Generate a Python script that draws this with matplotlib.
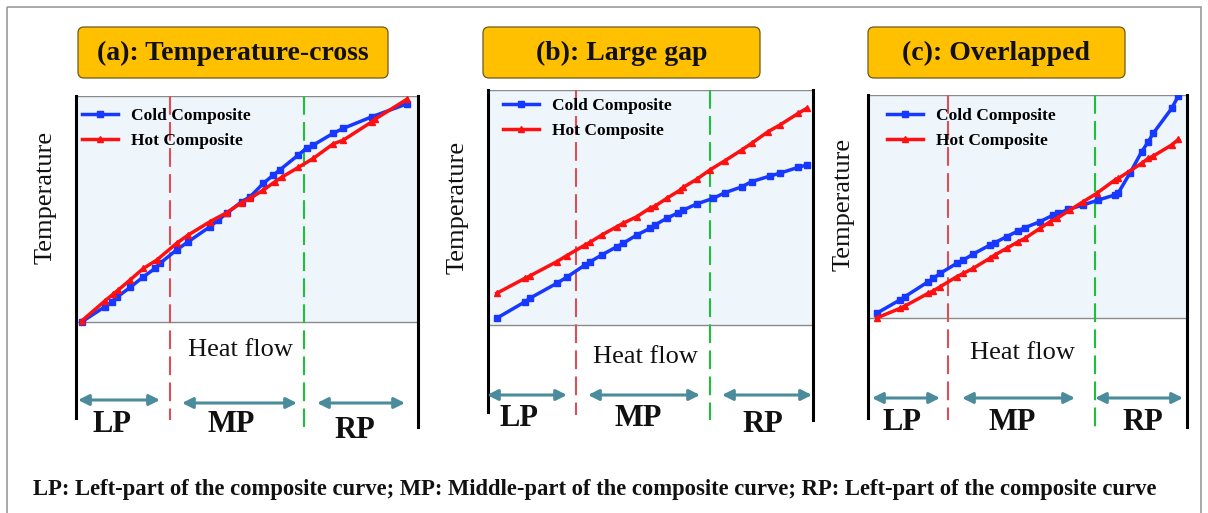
import numpy as np
import matplotlib
matplotlib.use('Agg')
import matplotlib.pyplot as plt
from matplotlib.patches import Rectangle, FancyBboxPatch
from matplotlib.transforms import blended_transform_factory

plt.rcParams['font.family'] = ['Liberation Serif', 'DejaVu Serif']

W, H = 1208, 513

# heat flow (x) / temperature (y), 0-100 arbitrary units
a_cold_x = [1.7, 8.5, 10.4, 11.9, 15.8, 19.7, 23.1, 24.6, 29.4, 32.8, 39.2, 41.6, 44.1, 48.4, 50.9,
            54.8, 57.7, 59.6, 65.0, 67.4, 69.4, 75.2, 78.2, 86.5, 96.7]
a_cold_y = [0.1, 6.8, 9.0, 10.9, 15.3, 20.0, 23.7, 26.0, 31.9, 35.5, 42.2, 45.1, 48.1, 53.2, 55.4,
            61.4, 65.0, 67.3, 73.9, 76.9, 78.3, 83.5, 85.7, 90.8, 96.5]
a_hot_x = [1.7, 8.5, 10.9, 12.4, 15.8, 19.7, 23.6, 29.4, 32.8, 39.2, 44.1, 48.4, 50.9, 54.8, 58.2,
           60.1, 65.0, 69.4, 75.2, 78.2, 86.5, 87.4, 96.7]
a_hot_y = [0.5, 9.4, 12.4, 14.2, 18.6, 23.7, 27.4, 34.8, 38.5, 44.4, 48.4, 52.8, 54.7, 58.4, 62.1,
           64.0, 68.4, 72.4, 78.8, 80.5, 88.6, 89.7, 98.5]

b_cold_x = [2.7, 11.4, 12.9, 21.1, 24.2, 29.8, 31.4, 35.0, 39.6, 41.6, 45.8, 49.8, 51.4, 55.0, 58.6,
            60.1, 64.2, 69.3, 72.9, 78.1, 81.1, 86.8, 89.8, 95.5, 98.1]
b_cold_y = [2.9, 9.9, 11.4, 17.7, 20.3, 25.5, 26.9, 29.8, 33.3, 34.8, 38.3, 41.1, 42.6, 45.4, 47.8,
            48.9, 51.5, 53.9, 56.3, 58.8, 61.0, 63.4, 64.6, 67.1, 68.1]
b_hot_x = [2.7, 11.4, 12.9, 21.1, 24.2, 29.8, 31.4, 35.0, 39.6, 41.6, 45.8, 49.8, 51.4, 55.0, 59.1,
           60.1, 64.2, 68.3, 72.9, 78.1, 81.1, 86.2, 89.8, 95.5, 98.1]
b_hot_y = [13.5, 19.9, 20.9, 26.9, 29.5, 34.0, 35.2, 38.3, 41.8, 43.3, 46.1, 49.7, 50.6, 53.9, 57.4,
           58.6, 62.0, 66.0, 69.9, 74.5, 77.3, 82.3, 85.1, 90.1, 92.2]

c_cold_x = [2.7, 10.0, 11.6, 18.9, 20.5, 22.6, 27.8, 29.9, 33.0, 38.2, 39.8, 43.5, 47.1, 49.2, 53.9,
            58.1, 59.7, 62.8, 67.5, 72.2, 77.4, 78.5, 82.1, 85.8, 87.9, 89.4, 95.2, 97.3]
c_cold_y = [2.1, 8.1, 9.6, 16.3, 17.8, 20.0, 24.5, 26.0, 28.7, 32.7, 33.8, 36.5, 39.1, 40.5, 43.2,
            46.2, 46.9, 48.7, 50.7, 52.9, 55.2, 56.2, 64.9, 74.6, 79.1, 82.8, 94.0, 99.6]
c_hot_x = [2.7, 10.0, 11.6, 18.9, 20.5, 22.6, 27.8, 29.9, 33.0, 38.2, 39.8, 43.5, 47.1, 49.2, 53.9,
           57.1, 59.2, 63.3, 67.5, 71.7, 77.4, 78.5, 85.8, 87.9, 89.4, 95.2, 97.3]
c_hot_y = [0.0, 4.3, 5.4, 11.1, 12.2, 14.0, 18.5, 20.0, 22.3, 26.8, 28.3, 31.3, 34.2, 35.7, 40.2,
           43.2, 44.7, 48.4, 52.2, 55.9, 61.9, 62.6, 69.4, 71.6, 72.6, 77.6, 80.1]

titles = ['(a): Temperature-cross', '(b): Large gap', '(c): Overlapped']
# LP/MP and MP/RP boundaries (heat flow units)
bounds = [(27.5, 66.7), (27.1, 68.3), (25.1, 71.2)]
footer = ('LP: Left-part of the composite curve; MP: Middle-part of the composite curve; '
          'RP: Left-part of the composite curve')

# layout in pixels: x0, x1, ytop, ybottom(plot)
panels = [
    dict(x0=76, x1=418, yt=96, yb=322, box=(78, 27, 310, 51), ylab=(46, 197),
         heat=(240, 350), lines=(418, 427, 420, 427),
         arr=[(78, 160, 400), (182, 297, 403), (317, 405, 403)],
         lab=[(112, 425), (231, 425), (355, 430)], leg=(82, 108),
         data=(a_cold_x, a_cold_y, a_hot_x, a_hot_y)),
    dict(x0=488, x1=813, yt=90, yb=325, box=(483, 27, 277, 51), ylab=(458, 207),
         heat=(645, 357), lines=(412, 420, 415, 420),
         arr=[(487, 567, 395), (588, 700, 395), (722, 812, 395)],
         lab=[(519, 418), (638, 418), (763, 425)], leg=(503, 98),
         data=(b_cold_x, b_cold_y, b_hot_x, b_hot_y)),
    dict(x0=868, x1=1187, yt=95, yb=318, box=(868, 27, 257, 51), ylab=(844, 204),
         heat=(1022, 353), lines=(418, 427, 420, 427),
         arr=[(872, 940, 398), (962, 1075, 398), (1095, 1183, 398)],
         lab=[(902, 423), (1012, 423), (1143, 422)], leg=(887, 108),
         data=(c_cold_x, c_cold_y, c_hot_x, c_hot_y)),
]

fig = plt.figure(figsize=(W / 100, H / 100), dpi=100)
ov = fig.add_axes([0, 0, 1, 1], zorder=5)
ov.set_xlim(0, W)
ov.set_ylim(H, 0)
ov.axis('off')
ov.patch.set_alpha(0)

# outer frame
ov.add_patch(Rectangle((7, 7), 1194, 520, fill=False, ec='#9a9a9a', lw=1.2))

blue = '#1638ff'
red = '#ff1010'
teal = '#4a8b9c'
ybottom = 445

for i, p in enumerate(panels):
    x0, x1, yt, yb = p['x0'], p['x1'], p['yt'], p['yb']
    ymin = -(ybottom - yb) / (yb - yt) * 100
    ax = fig.add_axes([x0 / W, 1 - ybottom / H, (x1 - x0) / W, (ybottom - yt) / H], zorder=2)
    ax.set_xlim(0, 100)
    ax.set_ylim(ymin, 100)
    ax.axis('off')
    ax.add_patch(Rectangle((0, 0), 100, 100, fc='#eef5fb', ec='#8a8a8a', lw=1.0, zorder=0))

    bt = blended_transform_factory(ax.transData, ov.transData)
    lb, rb = bounds[i]
    ax.plot([lb, lb], [yt, p['lines'][2]], transform=bt, color='#d9505a', lw=1.5,
            dashes=(9, 3.5), zorder=1, clip_on=False)
    ax.plot([rb, rb], [yt, p['lines'][3]], transform=bt, color='#1fbf3c', lw=1.5,
            dashes=(9, 3.5), zorder=1, clip_on=False)

    cx, cy, hx, hy = p['data']
    ax.plot(cx, cy, color=blue, lw=2.5, marker='s', ms=4, label='Cold Composite', zorder=3)
    ax.plot(hx, hy, color=red, lw=2.5, marker='^', ms=4.5, label='Hot Composite', zorder=3)
    ax.legend(loc='upper left', bbox_to_anchor=p['leg'], bbox_transform=ov.transData,
              frameon=False, borderpad=0, borderaxespad=0, handlelength=2.1,
              handletextpad=0.7, labelspacing=0.5, numpoints=1,
              prop=dict(family='Liberation Serif', weight='bold', size=12.5))

    # black side lines
    ov.plot([x0, x0], [yt, p['lines'][0]], color='black', lw=2.2)
    ov.plot([x1, x1], [yt, p['lines'][1]], color='black', lw=2.2)

    # title box
    bx, by, bw, bh = p['box']
    ov.add_patch(FancyBboxPatch((bx, by), bw, bh, boxstyle='round,pad=0,rounding_size=6',
                                fc='#ffc000', ec='#6b5a1e', lw=0.9))
    ov.text(bx + bw / 2, by + bh / 2 + 1, titles[i], ha='center', va='center',
            fontsize=20, fontweight='bold', color='#111111')

    ov.text(p['ylab'][0], p['ylab'][1], 'Temperature', rotation=90, ha='center',
            va='center', fontsize=19, color='#111111')
    ov.text(p['heat'][0], p['heat'][1], 'Heat flow', ha='center', va='center',
            fontsize=19, color='#111111')

    for (xa, xb, ya), (tx, ty), name in zip(p['arr'], p['lab'], ['LP', 'MP', 'RP']):
        ov.annotate('', xy=(xb, ya), xytext=(xa, ya),
                    arrowprops=dict(arrowstyle='<|-|>', color=teal, lw=2.2,
                                    mutation_scale=16, shrinkA=0, shrinkB=0))
        ov.text(tx, ty, name, ha='center', va='center', fontsize=22,
                fontweight='bold', color='#111111')

ov.text(33, 490, footer, ha='left', va='center', fontsize=16.3, fontweight='bold',
        color='#111111')

fig.savefig('out.png', dpi=100)
